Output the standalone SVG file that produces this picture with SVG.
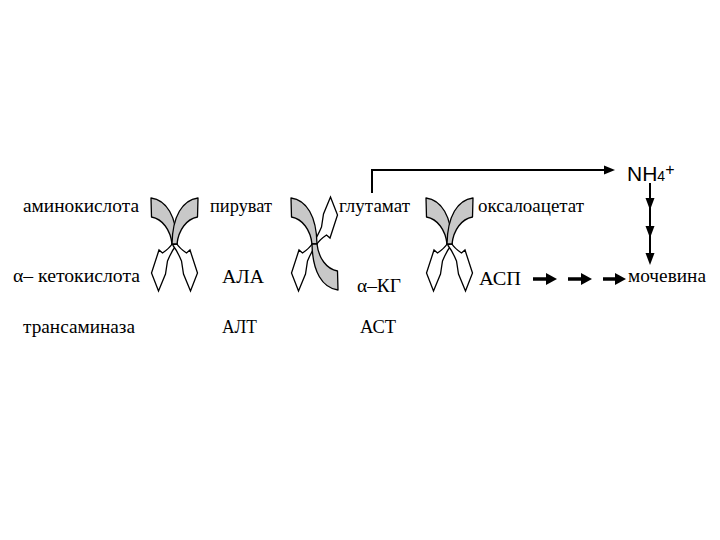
<svg xmlns="http://www.w3.org/2000/svg" xmlns:xlink="http://www.w3.org/1999/xlink" width="720" height="540" viewBox="0 0 720 540">
<style>
.t{font-family:"Liberation Serif","Times New Roman",Tinos,"DejaVu Serif",serif;font-size:19px;fill:#000}
.s{font-family:"Liberation Sans",Arial,sans-serif;fill:#000}
.g{fill:#c8c8c8;stroke:#000;stroke-width:1.3;stroke-linejoin:round}
.w{fill:#fff;stroke:#000;stroke-width:1.3;stroke-linejoin:miter}
.ln{fill:none;stroke:#000;stroke-width:2}
.ah{fill:#000;stroke:none}
</style>
<defs>
<path id="G" d="M -23.5,-46 C -8,-44 2,-28 2.5,0 L -2.5,0 C -4,-14 -12,-25 -23,-27 Z"/>
<path id="W" d="M -1.5,-1.5 C -4,3 -9,7 -12,9 L -15.5,6 L -23,29 L -16,47 L -9,30 L -7,17 C -4.5,11 -2,6 1.5,1.5 Z"/>
</defs>
<rect width="720" height="540" fill="#fff"/>
<g id="cross1" transform="translate(174.5,244)">
<use xlink:href="#W" class="w"/>
<use xlink:href="#W" class="w" transform="scale(-1,1)"/>
<use xlink:href="#G" class="g"/>
<use xlink:href="#G" class="g" transform="scale(-1,1)"/>
</g>
<g id="cross2" transform="translate(314.5,244)">
<use xlink:href="#W" class="w"/>
<use xlink:href="#W" class="w" transform="rotate(180)"/>
<use xlink:href="#G" class="g"/>
<use xlink:href="#G" class="g" transform="rotate(180)"/>
</g>
<g id="cross3" transform="translate(449.5,244)">
<use xlink:href="#W" class="w"/>
<use xlink:href="#W" class="w" transform="scale(-1,1)"/>
<use xlink:href="#G" class="g"/>
<use xlink:href="#G" class="g" transform="scale(-1,1)"/>
</g>
<g id="connectors">
<path class="ln" d="M 372,193 V 170 H 606"/>
<polygon class="ah" points="604,165.5 615,170 604,174.5"/>
<path class="ln" d="M 650,183 V 258"/>
<polygon class="ah" points="645.5,198 654.5,198 650,210"/>
<polygon class="ah" points="645.5,226 654.5,226 650,238"/>
<polygon class="ah" points="645.5,253 654.5,253 650,265"/>
<path d="M 533,279 H 548 M 568,279 H 583 M 603,279 H 617" stroke="#000" stroke-width="3.5" fill="none"/>
<polygon class="ah" points="546,273 557,279 546,285"/>
<polygon class="ah" points="581,273 592,279 581,285"/>
<polygon class="ah" points="615,273 626,279 615,285"/>
</g>
<g id="labels" font-family="'Liberation Serif','Times New Roman',serif">
<text class="t" x="23" y="212" textLength="116" lengthAdjust="spacingAndGlyphs">аминокислота</text>
<text class="t" x="210" y="212" textLength="62" lengthAdjust="spacingAndGlyphs">пируват</text>
<text class="t" x="339" y="212" textLength="71" lengthAdjust="spacingAndGlyphs">глутамат</text>
<text class="t" x="478" y="212" textLength="106" lengthAdjust="spacingAndGlyphs">оксалоацетат</text>
<text class="t" x="13" y="282" textLength="127" lengthAdjust="spacingAndGlyphs">α– кетокислота</text>
<text class="t" x="222" y="283" textLength="42" lengthAdjust="spacingAndGlyphs">АЛА</text>
<text class="t" x="357" y="292" textLength="44" lengthAdjust="spacingAndGlyphs">α–КГ</text>
<text class="t" x="479" y="285" textLength="42" lengthAdjust="spacingAndGlyphs">АСП</text>
<text class="t" x="628" y="282" textLength="78" lengthAdjust="spacingAndGlyphs">мочевина</text>
<text class="t" x="23" y="333" textLength="112" lengthAdjust="spacingAndGlyphs">трансаминаза</text>
<text class="t" x="222" y="333" textLength="35" lengthAdjust="spacingAndGlyphs">АЛТ</text>
<text class="t" x="360" y="333" textLength="36" lengthAdjust="spacingAndGlyphs">АСТ</text>
<text class="s" x="627" y="181" font-size="21">NH<tspan font-size="14">4</tspan><tspan font-size="16" dy="-6">+</tspan></text>
</g>
</svg>
